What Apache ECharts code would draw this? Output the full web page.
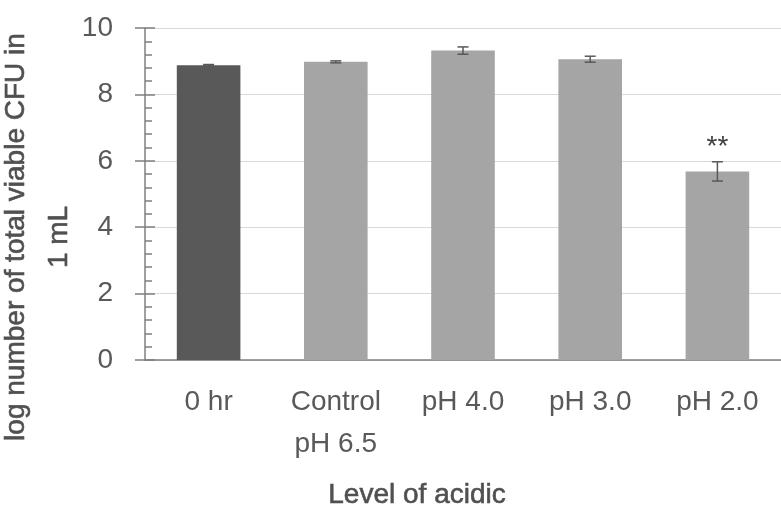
<!DOCTYPE html>
<html>
<head>
<meta charset="utf-8">
<script src="https://cdn.jsdelivr.net/npm/echarts@6/dist/echarts.min.js"></script>
<style>
  html, body { margin: 0; padding: 0; background: #fff; }
  #main { width: 781px; height: 507px; }
</style>
</head>
<body>
<div id="main"></div>
<script>
var categories = ['0 hr', 'Control\npH 6.5', 'pH 4.0', 'pH 3.0', 'pH 2.0'];
var logCfu = [8.88, 8.98, 9.32, 9.06, 5.68];
var errors = [0.02, 0.03, 0.11, 0.09, 0.29];
var marks = ['', '', '', '', '**'];
var yTicks = [0, 2, 4, 6, 8, 10];

var barColors = ['#595959', '#a5a5a5', '#a5a5a5', '#a5a5a5', '#a5a5a5'];
var fontName = "'Liberation Sans', Arial, sans-serif";
var textColor = '#595959';
var titleColor = '#505050';
var axisColor = '#7f7f7f';

var chart = echarts.init(document.getElementById('main'), null, { renderer: 'canvas' });

var barData = logCfu.map(function (v, i) {
  return { value: v, itemStyle: { color: barColors[i] } };
});
var errData = logCfu.map(function (v, i) {
  return [i, v, errors[i]];
});

function renderErr(params, api) {
  var i = api.value(0);
  var v = api.value(1);
  var e = api.value(2);
  var hi = api.coord([i, v + e]);
  var lo = api.coord([i, v - e]);
  var half = 5.5;
  var st = { stroke: '#595959', lineWidth: 1.5 };
  var kids = [
    { type: 'line', shape: { x1: hi[0], y1: hi[1], x2: lo[0], y2: lo[1] }, style: st },
    { type: 'line', shape: { x1: hi[0] - half, y1: hi[1], x2: hi[0] + half, y2: hi[1] }, style: st },
    { type: 'line', shape: { x1: lo[0] - half, y1: lo[1], x2: lo[0] + half, y2: lo[1] }, style: st }
  ];
  if (marks[i]) {
    kids.push({
      type: 'text',
      style: {
        text: marks[i], x: hi[0], y: hi[1] - 15,
        align: 'center', verticalAlign: 'middle',
        fontSize: 28, fontFamily: fontName, fill: '#404040'
      }
    });
  }
  return { type: 'group', children: kids };
}

var option = {
  animation: false,
  grid: { left: 145, right: -9, top: 28, bottom: 147, containLabel: false },
  xAxis: {
    type: 'category',
    data: categories,
    axisLine: { lineStyle: { color: axisColor, width: 1.5 } },
    axisTick: { show: false },
    axisLabel: {
      color: textColor, fontSize: 28, fontFamily: fontName,
      margin: 21, lineHeight: 42, interval: 0
    }
  },
  yAxis: [
    {
      type: 'value',
      min: yTicks[0],
      max: yTicks[yTicks.length - 1],
      interval: 2,
      axisLine: { show: true, lineStyle: { color: axisColor, width: 1.5 } },
      axisTick: { show: true, inside: true, length: 10, lineStyle: { color: axisColor, width: 1.5 } },
      minorTick: { show: true, splitNumber: 5, length: 7, lineStyle: { color: axisColor, width: 1.5 } },
      splitLine: { show: true, lineStyle: { color: '#d9d9d9', width: 1 } },
      axisLabel: { color: textColor, fontSize: 28, fontFamily: fontName, margin: 32 }
    },
    {
      type: 'value',
      position: 'left',
      min: yTicks[0],
      max: yTicks[yTicks.length - 1],
      interval: 2,
      axisLine: { show: false },
      axisTick: { show: true, inside: false, length: 10, lineStyle: { color: axisColor, width: 1.5 } },
      splitLine: { show: false },
      axisLabel: { show: false }
    }
  ],
  series: [
    {
      type: 'bar',
      data: barData,
      barWidth: '50%',
      z: 2
    },
    {
      type: 'custom',
      data: errData,
      renderItem: renderErr,
      z: 3
    }
  ],
  graphic: [
    {
      type: 'text',
      x: 38, y: 237,
      rotation: Math.PI / 2,
      style: {
        text: 'log number of total viable CFU in\n1 mL',
        align: 'center', verticalAlign: 'middle',
        fontSize: 28, fontFamily: fontName,
        lineHeight: 43, fill: titleColor,
        stroke: titleColor, lineWidth: 0.6
      }
    },
    {
      type: 'text',
      x: 417, y: 495,
      style: {
        text: 'Level of acidic',
        align: 'center', verticalAlign: 'middle',
        fontSize: 28, fontFamily: fontName,
        fill: titleColor, stroke: titleColor, lineWidth: 0.6
      }
    }
  ]
};

chart.setOption(option);
window.addEventListener('resize', chart.resize);
</script>
</body>
</html>
